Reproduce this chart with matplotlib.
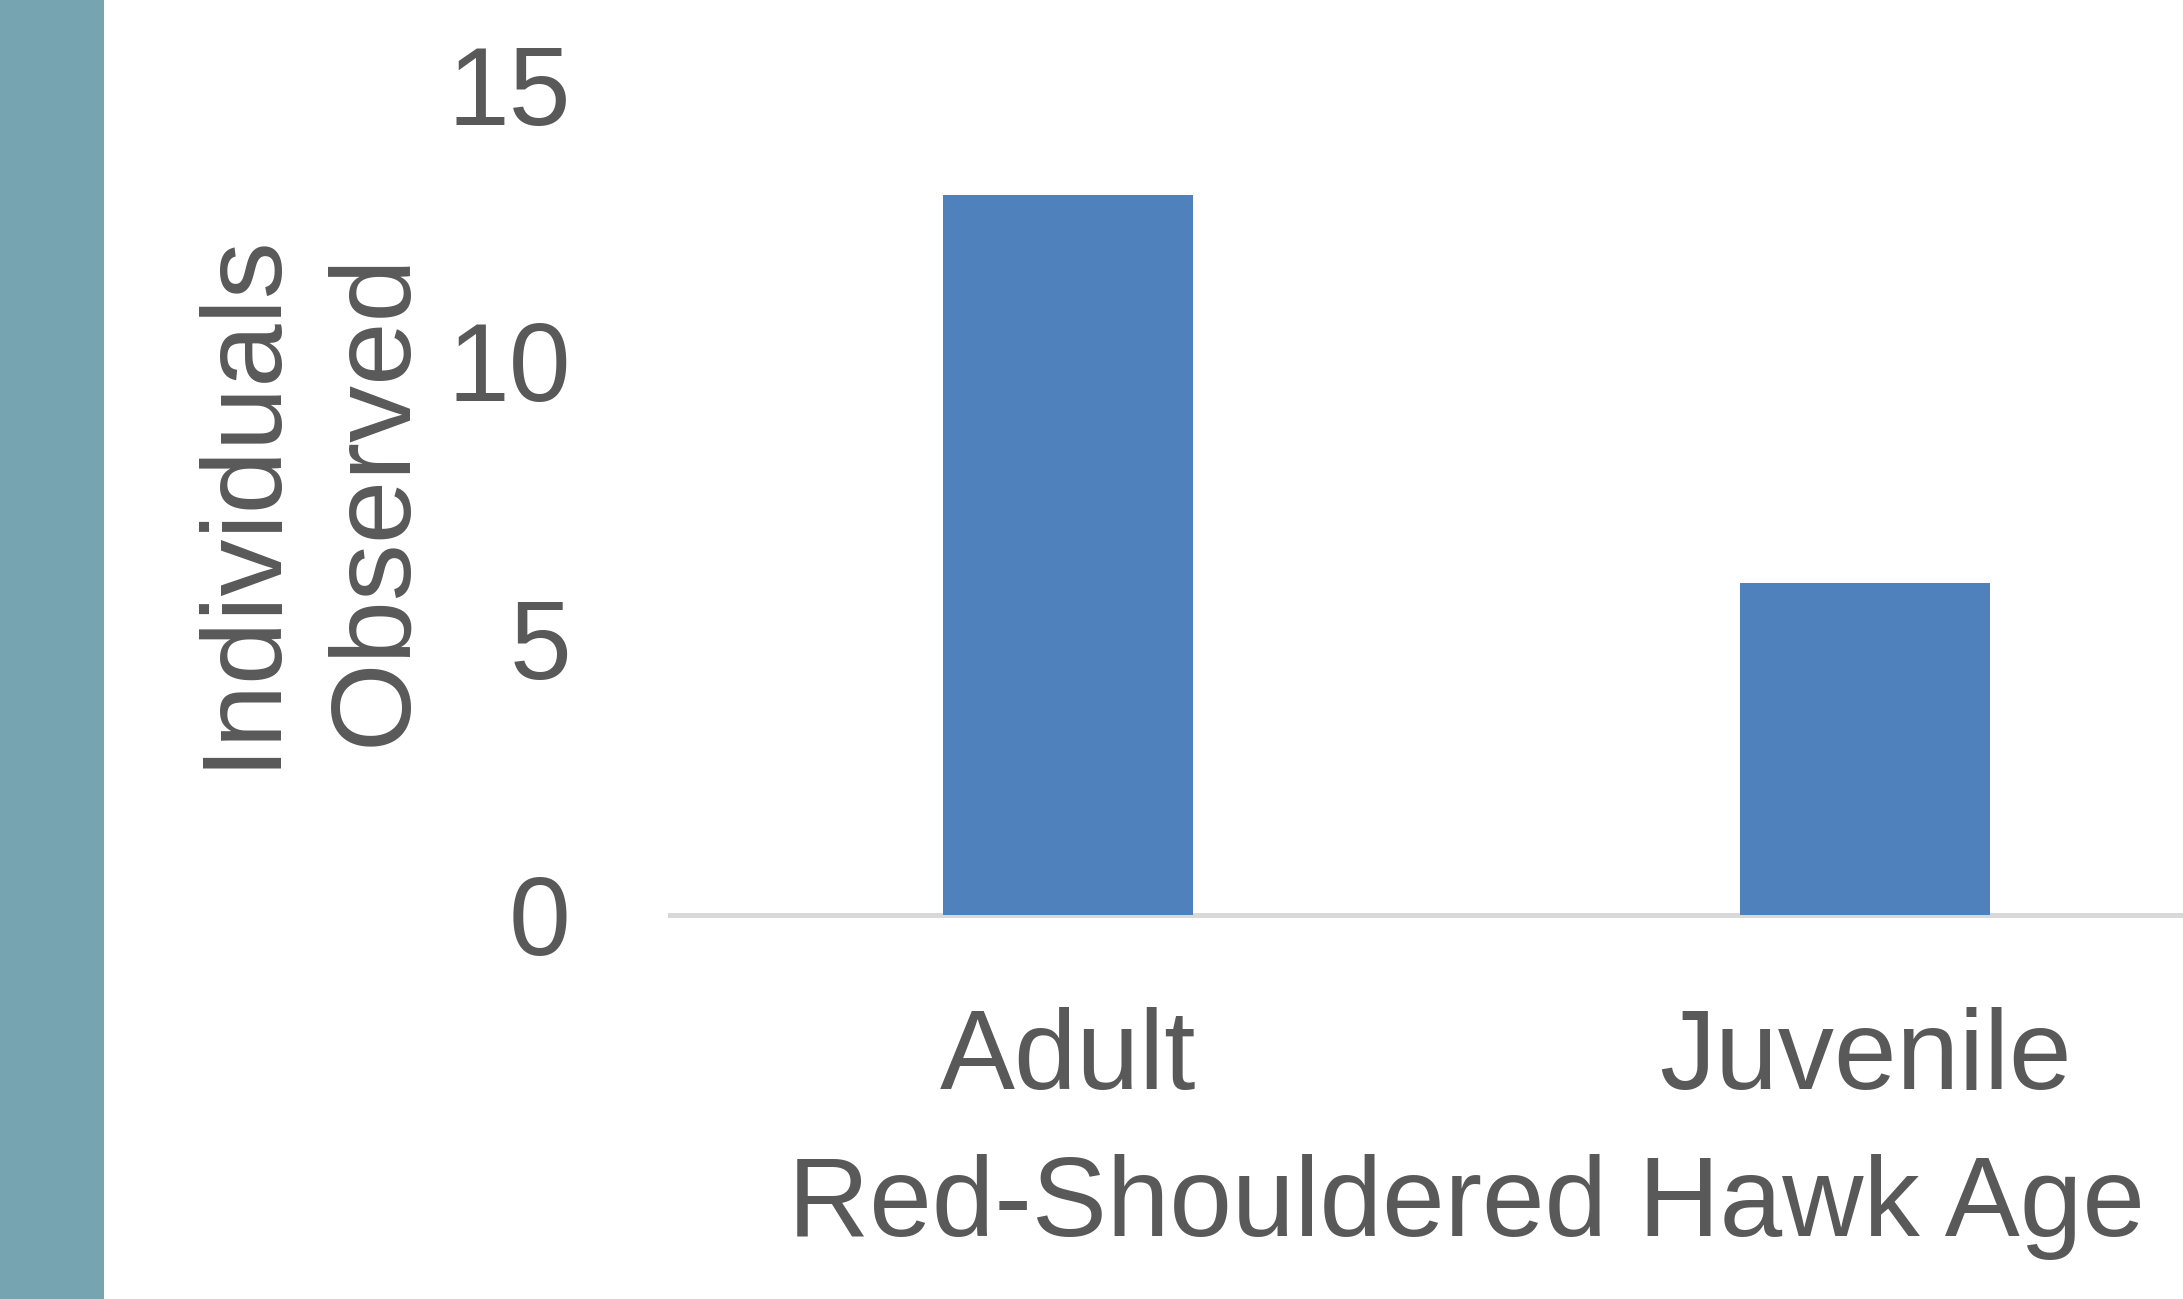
import matplotlib
matplotlib.use("Agg")
import matplotlib.pyplot as plt
from matplotlib.patches import Rectangle

categories = ["Adult", "Juvenile"]
values = [13, 6]
yticks = [0, 5, 10, 15]
xlabel = "Red-Shouldered Hawk Age"
ylabel = "Individuals\nObserved"

plt.rcParams['font.family'] = ['Liberation Sans', 'DejaVu Sans']
TXT = '#595959'
FS = 80

W, H = 2183, 1299
fig = plt.figure(figsize=(W / 100, H / 100), dpi=100)
fig.patches.append(Rectangle((0, 0), 104 / W, 1, transform=fig.transFigure,
                             facecolor='#76A5B1', edgecolor='none', zorder=0))

L = 669.5 / W
B = (H - 915) / H
ax = fig.add_axes([L, B, 1594 / W, 831 / H])
ax.set_facecolor('none')
x = list(range(len(categories)))
ax.bar(x, values, width=0.314, color='#4F81BD', zorder=2)
ax.set_xlim(-0.5, 1.5)
ax.set_ylim(0, 15)
ax.set_yticks(yticks)
ax.set_xticks(x)
ax.set_xticklabels(categories, fontsize=81)
for s in ['top', 'right', 'left']:
    ax.spines[s].set_visible(False)
ax.spines['bottom'].set_color('#D9D9D9')
ax.spines['bottom'].set_linewidth(3.6)
ax.spines['bottom'].set_zorder(1)
ax.tick_params(axis='both', length=0, labelcolor=TXT)
ax.tick_params(axis='y', labelsize=FS)
ax.tick_params(axis='x', pad=66)
ax.tick_params(axis='y', pad=71)
ax.set_xlabel(xlabel, fontsize=81, color=TXT, labelpad=30)
ax.set_ylabel(ylabel, fontsize=82, color=TXT, linespacing=1.33)
ax.yaxis.set_label_coords(-0.151, 0.5)

fig.savefig('out.png', dpi=100)
